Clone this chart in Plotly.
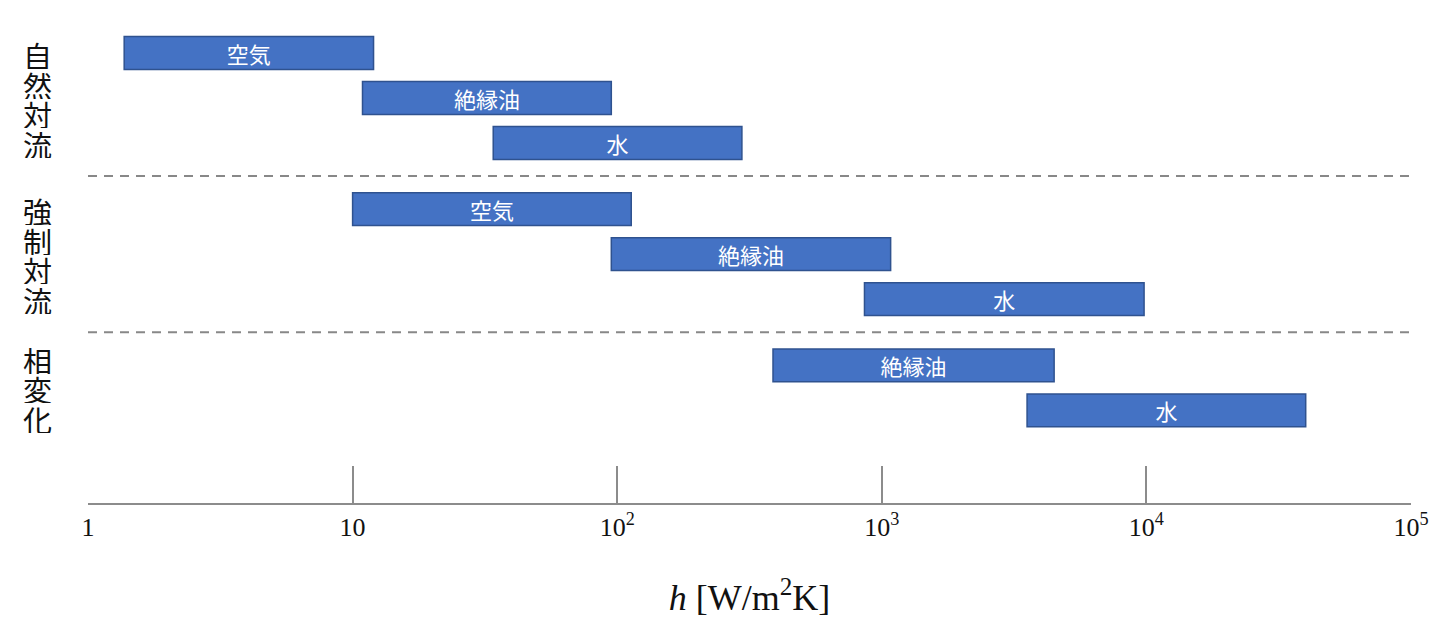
import plotly.graph_objects as go

# ---- data ----
groups = ["自然対流", "強制対流", "相変化"]
natural_fluids = ["空気", "絶縁油", "水"]
natural_low = [1.37, 10.9, 34]
natural_high = [12.0, 95, 296]

forced_fluids = ["空気", "絶縁油", "水"]
forced_low = [10, 95, 860]
forced_high = [113, 1080, 9800]

phase_fluids = ["絶縁油", "水"]
phase_low = [388, 3540]
phase_high = [4480, 40000]

tick_values = [1, 10, 100, 1000, 10000, 100000]
tick_labels = ["1", "10", "10<sup>2</sup>", "10<sup>3</sup>", "10<sup>4</sup>", "10<sup>5</sup>"]
x_title = "<i>h</i> [W/m<sup>2</sup>K]"

# ---- layout of rows (computed) ----
ROW = 1.0
GROUP_GAP = 1.47
group_data = [
    (natural_fluids, natural_low, natural_high),
    (forced_fluids, forced_low, forced_high),
    (phase_fluids, phase_low, phase_high),
]

ys, names, lows, highs = [], [], [], []
group_ranges = []
pos = 0.0
for gi, (fl, lo, hi) in enumerate(group_data):
    start = pos
    for i in range(len(fl)):
        ys.append(pos)
        names.append(fl[i])
        lows.append(lo[i])
        highs.append(hi[i])
        if i < len(fl) - 1:
            pos += ROW
    group_ranges.append((start, pos))
    pos += GROUP_GAP

BAR_FILL = "#4472C4"
BAR_EDGE = "#2F528F"
GRAY = "#888888"
CJK = "Noto Sans CJK JP"
SERIF = "Liberation Serif"

fig = go.Figure()
fig.add_trace(go.Bar(
    orientation="h",
    y=ys,
    base=lows,
    x=[h - l for l, h in zip(lows, highs)],
    width=0.73,
    text=names,
    textposition="inside",
    insidetextanchor="middle",
    textangle=0,
    constraintext="none",
    textfont=dict(family=CJK, size=22, color="white"),
    marker=dict(color=BAR_FILL, line=dict(color=BAR_EDGE, width=1.5)),
    hoverinfo="skip",
    showlegend=False,
))

# dashed separators between groups
shapes = []
for (a0, a1), (b0, b1) in zip(group_ranges[:-1], group_ranges[1:]):
    yline = (a1 + b0) / 2
    shapes.append(dict(type="line", xref="paper", x0=0, x1=1, yref="y", y0=yline, y1=yline,
                       line=dict(color=GRAY, width=2, dash="9px,7px")))

# vertical group labels (one char per annotation)
annotations = []
CHAR_STEP = 0.655
for (g0, g1), label in zip(group_ranges, groups):
    center = (g0 + g1) / 2 + 0.03
    n = len(label)
    for k, ch in enumerate(label):
        yk = center + (k - (n - 1) / 2) * CHAR_STEP
        annotations.append(dict(text=ch, xref="paper", x=-0.0385, xanchor="center",
                                yref="y", y=yk, yanchor="middle", showarrow=False,
                                height=28, borderpad=0,
                                font=dict(family=CJK, size=29, color="#111111")))

fig.update_layout(
    width=1443, height=621,
    margin=dict(l=80, r=40, t=2, b=126),
    paper_bgcolor="white", plot_bgcolor="white",
    barmode="overlay",
    shapes=shapes,
    annotations=annotations,
    xaxis=dict(
        type="log", range=[0, 5],
        tickvals=tick_values, ticktext=tick_labels,
        ticks="inside", ticklen=37, tickwidth=2, tickcolor="#8C8C8C",
        showline=True, linecolor="#8C8C8C", linewidth=2,
        showgrid=False, zeroline=False,
        tickfont=dict(family=SERIF, size=26, color="#111111"),
        title=dict(text=x_title, font=dict(family=SERIF, size=36, color="#111111"), standoff=44),
    ),
    yaxis=dict(
        range=[10.0, -0.956], visible=False, showgrid=False, zeroline=False,
    ),
)

fig.write_html("out.html")
